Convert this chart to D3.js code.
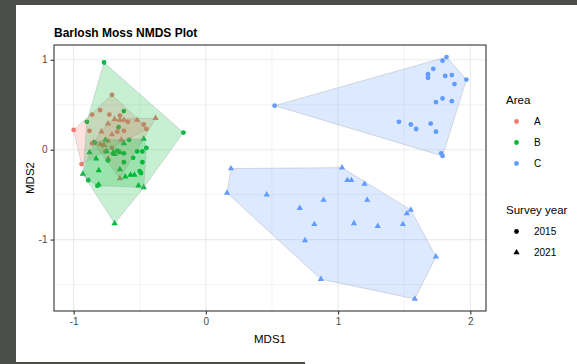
<!DOCTYPE html>
<html><head><meta charset="utf-8">
<script src="https://cdn.jsdelivr.net/npm/d3@7"></script>
<style>body{margin:0;background:#fff}svg{display:block}text{font-family:"Liberation Sans",Arial,sans-serif}</style>
</head><body><svg id="c" width="577" height="364"></svg>
<script>
// ---- data (MDS1, MDS2, hull set) ----
const areas = ["A","B","C"];
const years = ["2015","2021"];
const xTicks = [-1,0,1,2];
const yTicks = [-1,0,1];
const xMinor = [-0.5,0.5,1.5];
const yMinor = [-1.5,-0.5,0.5];

const a2015 = [[-1.00,0.22],[-0.94,-0.16],[-0.71,0.61],[-0.80,0.44],[-0.86,0.39],[-0.88,0.21],[-0.73,0.39],[-0.65,0.38],[-0.59,0.31],[-0.47,0.28],[-0.45,0.23],[-0.62,0.21],[-0.67,0.20],[-0.74,0.10],[-0.86,0.07],[-0.71,0.02],[-0.78,0.05],[-0.76,-0.02]];
const a2021 = [[-0.38,0.35],[-0.69,0.34],[-0.74,0.29],[-0.65,0.33],[-0.62,0.33],[-0.52,0.33],[-0.79,0.20],[-0.71,0.17],[-0.64,0.11],[-0.85,0.08],[-0.80,0.06],[-0.77,0.05],[-0.70,-0.04],[-0.74,-0.10],[-0.65,-0.32]];
const b2015 = [[-0.77,0.97,"o"],[-0.17,0.19,"o"],[-0.90,0.31,"o"],[-0.62,0.43,"o"],[-0.66,0.25,"o"],[-0.58,0.11,"c"],[-0.84,0.08,"c"],[-0.67,-0.01,"c"],[-0.52,-0.02,"c"],[-0.48,-0.02,"c"],[-0.45,0.02,"c"],[-0.74,-0.12,"c"],[-0.62,-0.04,"c"],[-0.62,-0.14,"c"],[-0.55,-0.09,"c"],[-0.48,-0.14,"c"],[-0.50,-0.24,"c"],[-0.49,-0.26,"c"],[-0.89,-0.34,"c"],[-0.82,-0.40,"c"]];
const b2021 = [[-0.93,-0.27,"c"],[-0.88,-0.03,"c"],[-0.83,-0.10,"c"],[-0.81,-0.23,"c"],[-0.69,-0.82,"o"],[-0.47,0.12,"c"],[-0.47,-0.42,"c"],[-0.51,-0.40,"c"],[-0.61,-0.30,"c"],[-0.57,-0.28,"c"],[-0.54,-0.28,"c"],[-0.65,-0.22,"c"],[-0.69,-0.05,"c"],[-0.81,-0.39,"c"],[-0.75,-0.02,"c"],[-0.65,-0.03,"c"],[-0.70,-0.03,"c"],[-0.62,0.07,"c"],[-0.76,0.11,"c"]];
const c2015 = [[0.52,0.49],[1.79,0.99],[1.82,1.03],[1.72,0.90],[1.68,0.84],[1.68,0.80],[1.81,0.82],[1.86,0.83],[1.97,0.78],[1.88,0.73],[1.74,0.53],[1.79,0.57],[1.86,0.54],[1.46,0.31],[1.55,0.28],[1.59,0.23],[1.70,0.29],[1.74,0.20],[1.78,-0.04],[1.79,-0.07]];
const c2021 = [[0.19,-0.21],[0.16,-0.48],[1.03,-0.20],[1.07,-0.34],[1.10,-0.34],[1.20,-0.38],[0.46,-0.50],[0.89,-0.56],[1.22,-0.56],[0.71,-0.65],[1.55,-0.67],[1.52,-0.71],[0.82,-0.83],[1.12,-0.82],[1.30,-0.85],[1.49,-0.83],[0.75,-1.01],[1.74,-1.19],[0.87,-1.44],[1.58,-1.66]];

const colors = {A:"#F8766D", B:"#00BA38", C:"#619CFF"};

const series = [
  {area:"A", year:"2015", pts:a2015},
  {area:"A", year:"2021", pts:a2021},
  {area:"B", year:"2015", pts:b2015},
  {area:"B", year:"2021", pts:b2021},
  {area:"C", year:"2015", pts:c2015},
  {area:"C", year:"2021", pts:c2021}
];
const points = series.flatMap(s => s.pts.map(p => ({x:p[0], y:p[1], set:p[2], area:s.area, year:s.year})));

// hull groups
const hulls = [
  {area:"A", pts: points.filter(p=>p.area==="A"&&p.year==="2015")},
  {area:"A", pts: points.filter(p=>p.area==="A"&&p.year==="2021")},
  {area:"B", pts: points.filter(p=>p.area==="B")},
  {area:"B", pts: points.filter(p=>p.area==="B"&&p.set==="c")},
  {area:"C", pts: points.filter(p=>p.area==="C"&&p.year==="2015")},
  {area:"C", pts: points.filter(p=>p.area==="C"&&p.year==="2021")}
];

// ---- layout ----
const P = {l:54, r:486, t:45, b:311};
const svg = d3.select("#c");
const xe = d3.extent(points, d=>d.x), ye = d3.extent(points, d=>d.y);
const dx = xe[1]-xe[0], dy = ye[1]-ye[0];
const x = d3.scaleLinear().domain([xe[0]-0.05*dx, xe[1]+0.05*dx]).range([P.l, P.r]);
const y = d3.scaleLinear().domain([ye[0]-0.05*dy, ye[1]+0.05*dy]).range([P.b, P.t]);

// frame of screenshot
svg.append("rect").attr("x",0).attr("y",0).attr("width",577).attr("height",5).attr("fill","#4b4e49");
svg.append("rect").attr("x",0).attr("y",0).attr("width",16).attr("height",364).attr("fill","#4b4e49");
svg.append("rect").attr("x",16).attr("y",362).attr("width",289).attr("height",2).attr("fill","#4b4e49");

// grid
const g = svg.append("g");
g.selectAll(".gxm").data(xMinor).join("line").attr("x1",d=>x(d)).attr("x2",d=>x(d)).attr("y1",P.t).attr("y2",P.b).attr("stroke","#ebebeb").attr("stroke-width",0.6);
g.selectAll(".gym").data(yMinor).join("line").attr("y1",d=>y(d)).attr("y2",d=>y(d)).attr("x1",P.l).attr("x2",P.r).attr("stroke","#ebebeb").attr("stroke-width",0.6);
g.selectAll(".gx").data(xTicks).join("line").attr("x1",d=>x(d)).attr("x2",d=>x(d)).attr("y1",P.t).attr("y2",P.b).attr("stroke","#ebebeb").attr("stroke-width",1.1);
g.selectAll(".gy").data(yTicks).join("line").attr("y1",d=>y(d)).attr("y2",d=>y(d)).attr("x1",P.l).attr("x2",P.r).attr("stroke","#ebebeb").attr("stroke-width",1.1);

// points
const sym = d3.symbol().type(d=> d.year==="2015" ? d3.symbolCircle : d3.symbolTriangle).size(d=> d.year==="2015" ? 18 : 17);
svg.append("g").selectAll("path").data(points).join("path")
  .attr("d", sym).attr("transform", d=>`translate(${x(d.x)},${y(d.y)})`)
  .attr("fill", d=>colors[d.area]);

// hulls (drawn over points)
svg.append("g").selectAll("path").data(hulls).join("path")
  .attr("d", h => "M" + d3.polygonHull(h.pts.map(p=>[x(p.x), y(p.y)])).join("L") + "Z")
  .attr("fill", h=>colors[h.area]).attr("fill-opacity",0.22)
  .attr("stroke","#9a9fa8").attr("stroke-opacity",0.6).attr("stroke-width",0.6);

// panel border
svg.append("rect").attr("x",P.l).attr("y",P.t).attr("width",P.r-P.l).attr("height",P.b-P.t)
  .attr("fill","none").attr("stroke","#333").attr("stroke-width",1.1);

// axes
const ax = svg.append("g").attr("transform",`translate(0,${P.b})`)
  .call(d3.axisBottom(x).tickValues(xTicks).tickFormat(d=>String(d)).tickSize(3.5).tickPadding(3));
const ay = svg.append("g").attr("transform",`translate(${P.l},0)`)
  .call(d3.axisLeft(y).tickValues(yTicks).tickFormat(d=>String(d)).tickSize(3.5).tickPadding(3));
[ax,ay].forEach(a=>{
  a.select(".domain").remove();
  a.selectAll(".tick line").attr("stroke","#333").attr("stroke-width",1.1);
  a.selectAll(".tick text").attr("fill","#4d4d4d").style("font-size","10px").style("font-family","'Liberation Sans',Arial,sans-serif");
});

// titles
svg.append("text").attr("x",P.l).attr("y",37).text("Barlosh Moss NMDS Plot")
  .style("font-size","12px").style("font-weight","bold").attr("fill","#000");
svg.append("text").attr("x",(P.l+P.r)/2).attr("y",343).attr("text-anchor","middle").text("MDS1")
  .style("font-size","11.5px").attr("fill","#000");
svg.append("text").attr("transform",`translate(34,${(P.t+P.b)/2}) rotate(-90)`).attr("text-anchor","middle").text("MDS2")
  .style("font-size","11.5px").attr("fill","#000");

// legend
const lg = svg.append("g");
lg.append("text").attr("x",506).attr("y",104).text("Area").style("font-size","11.5px");
areas.forEach((a,i)=>{
  const yy = 121.5 + i*21;
  lg.append("path").attr("d", d3.symbol().type(d3.symbolCircle).size(18)()).attr("transform",`translate(516.5,${yy})`).attr("fill",colors[a]);
  lg.append("text").attr("x",534).attr("y",yy+3.5).text(a).style("font-size","10px").attr("fill","#000");
});
lg.append("text").attr("x",506).attr("y",214).text("Survey year").style("font-size","11.5px");
years.forEach((yv,i)=>{
  const yy = 231.5 + i*21;
  lg.append("path").attr("d", d3.symbol().type(i===0?d3.symbolCircle:d3.symbolTriangle).size(i===0?18:17)()).attr("transform",`translate(516.5,${yy})`).attr("fill","#000");
  lg.append("text").attr("x",534).attr("y",yy+3.5).text(yv).style("font-size","10px").attr("fill","#000");
});
</script></body></html>
